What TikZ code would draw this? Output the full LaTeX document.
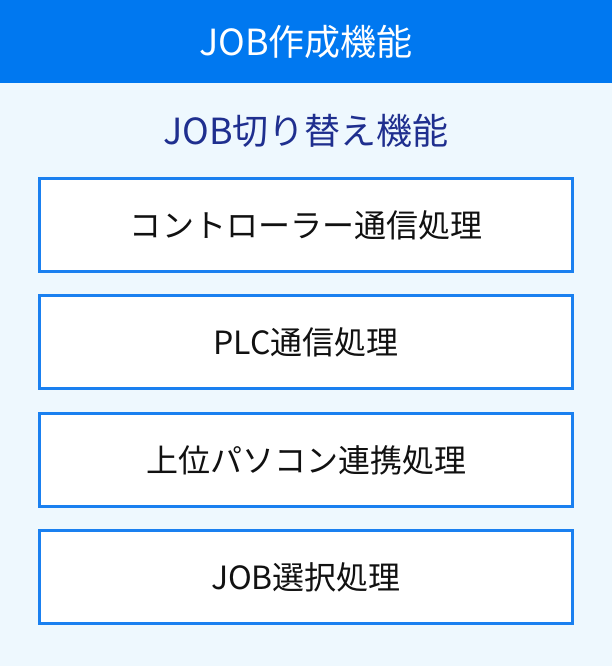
\documentclass[tikz,border=0pt]{standalone}
\usepackage{fontspec}
\setmainfont{Noto Sans CJK JP}
\definecolor{hdr}{RGB}{0,120,240}
\definecolor{bg}{RGB}{238,248,254}
\definecolor{brd}{RGB}{26,128,240}
\definecolor{sub}{RGB}{31,47,143}
\definecolor{txt}{RGB}{17,17,17}
\tikzset{
  procbox/.style={draw=brd, line width=3bp, fill=white, minimum width=533bp, minimum height=93bp, inner sep=0pt, text=txt, font=\fontsize{32bp}{36bp}\selectfont},
}
\begin{document}
\begin{tikzpicture}[x=1bp,y=-1bp]
\fill[bg] (0,0) rectangle (612,666);
\useasboundingbox (0,0) rectangle (612,666);
\fill[hdr] (0,0) rectangle (612,83);
\node[text=white, font=\fontsize{36bp}{40bp}\selectfont] (title) at (306,42) {JOB作成機能};
\node[text=sub, font=\fontsize{36bp}{40bp}\selectfont] (subtitle) at (306,131) {JOB切り替え機能};
\node[procbox] (b1) at (306,225) {コントローラー通信処理};
\node[procbox] (b2) at (306,342) {PLC通信処理};
\node[procbox] (b3) at (306,460) {上位パソコン連携処理};
\node[procbox] (b4) at (306,577) {JOB選択処理};
\end{tikzpicture}
\end{document}
